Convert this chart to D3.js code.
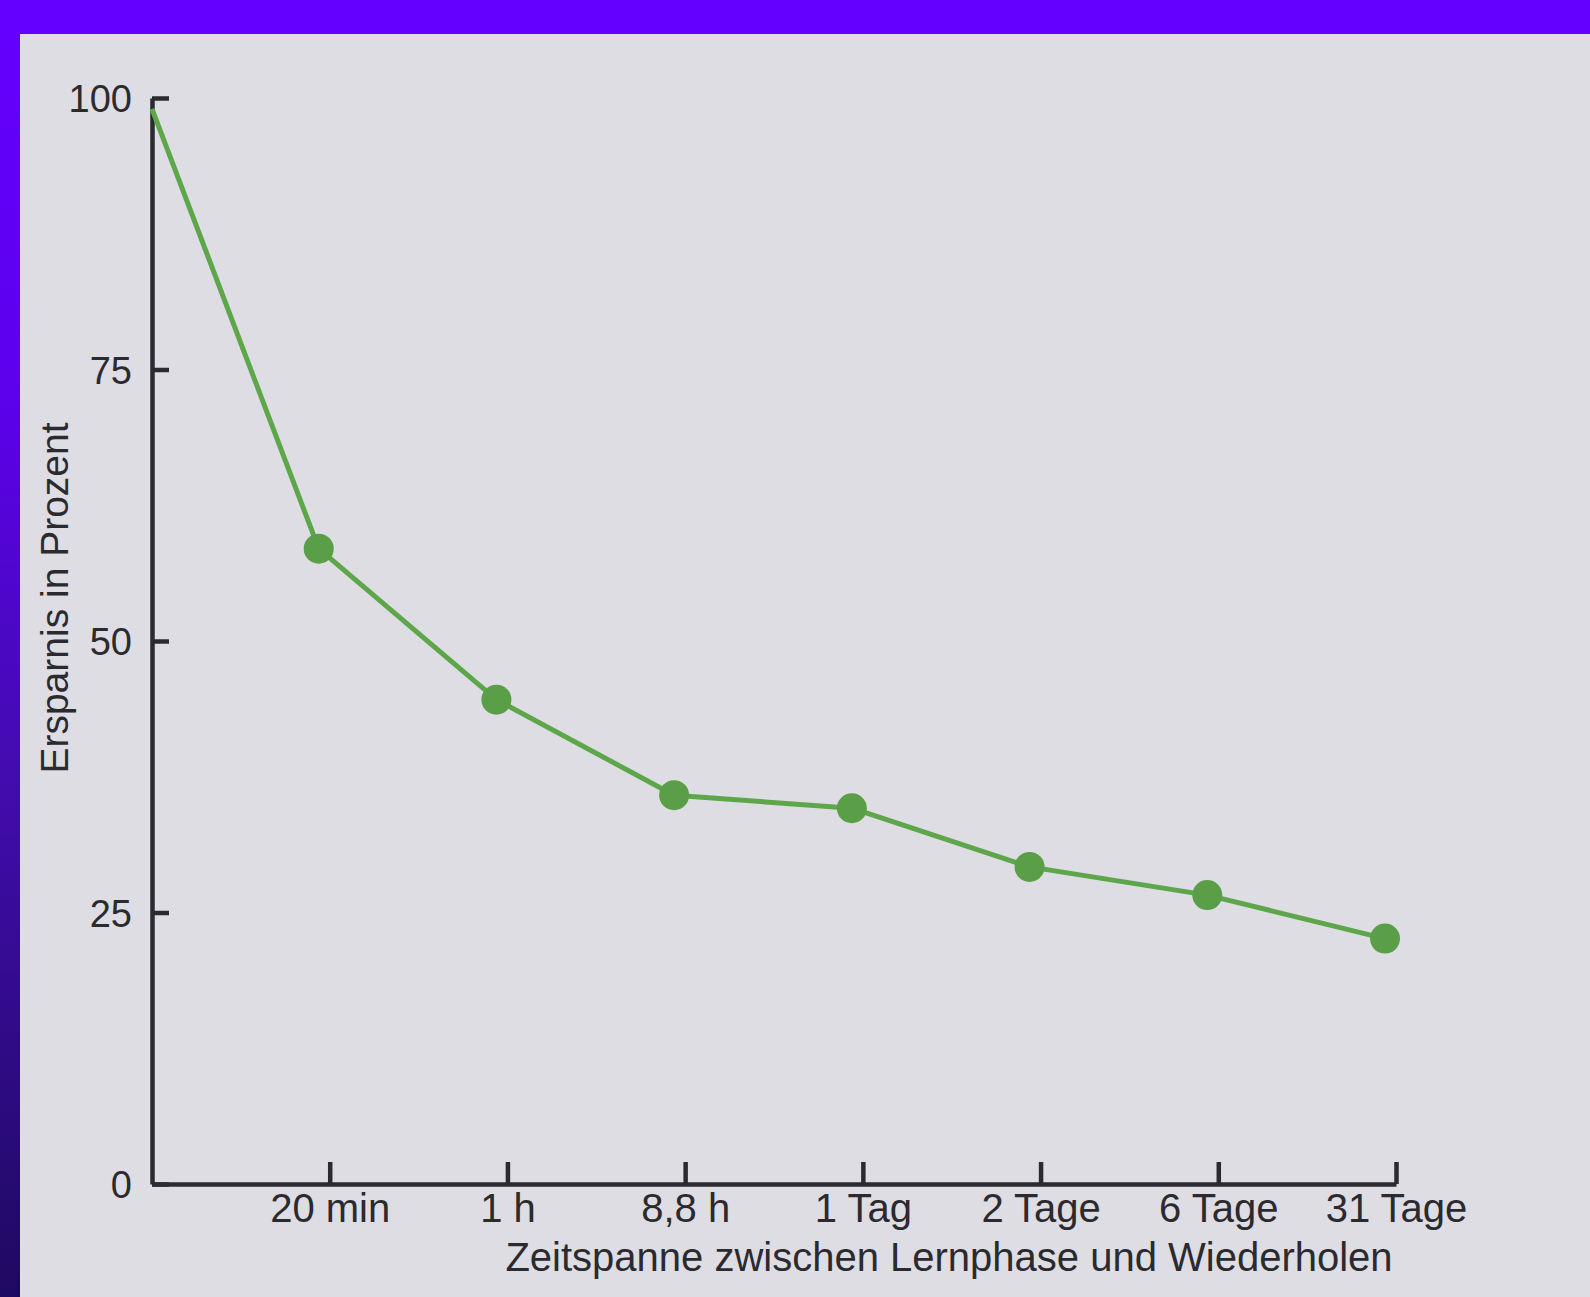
<!DOCTYPE html>
<html>
<head>
<meta charset="utf-8">
<script src="https://cdn.jsdelivr.net/npm/d3@7/dist/d3.min.js"></script>
<style>
  html, body { margin: 0; padding: 0; background: #dedde4; }
  svg { display: block; }
</style>
</head>
<body>
<svg id="chart" width="1590" height="1297"></svg>
<script>
// ---- data ----
const categories = ["20 min", "1 h", "8,8 h", "1 Tag", "2 Tage", "6 Tage", "31 Tage"];
const startValue = 99;
const savings = [58.5, 44.6, 35.8, 34.6, 29.2, 26.6, 22.6];
const yTicks = [0, 25, 50, 75, 100];
const yTitle = "Ersparnis in Prozent";
const xTitle = "Zeitspanne zwischen Lernphase und Wiederholen";

const svg = d3.select("#chart");
const W = 1590, H = 1297;

// frame / page
const defs = svg.append("defs");
const grad = defs.append("linearGradient").attr("id", "leftGrad")
  .attr("x1", 0).attr("y1", 0).attr("x2", 0).attr("y2", 1);
grad.append("stop").attr("offset", "0%").attr("stop-color", "#6400ff");
grad.append("stop").attr("offset", "30%").attr("stop-color", "#5c00ec");
grad.append("stop").attr("offset", "60%").attr("stop-color", "#420cae");
grad.append("stop").attr("offset", "100%").attr("stop-color", "#1e0a60");

svg.append("rect").attr("x", 0).attr("y", 0).attr("width", W).attr("height", H).attr("fill", "#dedde4");
svg.append("rect").attr("x", 0).attr("y", 0).attr("width", 20).attr("height", H).attr("fill", "url(#leftGrad)");
svg.append("rect").attr("x", 0).attr("y", 0).attr("width", W).attr("height", 34).attr("fill", "#6400ff");

// scales
const x0 = 152, x1 = 1396, y0 = 1184, y1 = 98;
const x = d3.scaleLinear().domain([0, categories.length]).range([x0, x1]);
const y = d3.scaleLinear().domain([0, 100]).range([y0, y1]);

const g = svg.append("g").attr("font-family", "'Liberation Sans', Arial, Helvetica, sans-serif");

const ink = "#2b2a2e";

// y axis
const yAxis = d3.axisLeft(y).tickValues(yTicks).tickSizeInner(-17).tickSizeOuter(0).tickPadding(20);
const yg = g.append("g").attr("transform", `translate(${x0},0)`).call(yAxis);
yg.select(".domain").attr("stroke", ink).attr("stroke-width", 4.5);
yg.selectAll(".tick line").attr("stroke", ink).attr("stroke-width", 4.5);
yg.selectAll(".tick text").attr("fill", ink).attr("font-size", 38).attr("font-family", null)
  .attr("dy", "0.36em");

// x axis
const xAxis = d3.axisBottom(x).tickValues(d3.range(1, categories.length + 1))
  .tickFormat(i => categories[i - 1]).tickSizeInner(-22).tickSizeOuter(0).tickPadding(8);
const xg = g.append("g").attr("transform", `translate(0,${y0})`).call(xAxis);
xg.select(".domain").attr("stroke", ink).attr("stroke-width", 4.5);
xg.selectAll(".tick line").attr("stroke", ink).attr("stroke-width", 4.5);
xg.selectAll(".tick text").attr("fill", ink).attr("font-size", 40).attr("font-family", null)
  .attr("dy", "0.75em");

// axis titles
g.append("text").attr("transform", `translate(68,598) rotate(-90)`)
  .attr("text-anchor", "middle").attr("font-size", 39).attr("fill", ink).text(yTitle);
g.append("text").attr("x", 949).attr("y", 1271)
  .attr("text-anchor", "middle").attr("font-size", 40).attr("fill", ink).text(xTitle);

// data line
const dx = -11;
const pts = [{ xp: x(0), yp: y(startValue) }]
  .concat(savings.map((v, i) => ({ xp: x(i + 1) + dx, yp: y(v) })));
const green = "#5da64a";
g.append("path").datum(pts)
  .attr("d", d3.line().x(d => d.xp).y(d => d.yp))
  .attr("fill", "none").attr("stroke", green).attr("stroke-width", 5).attr("stroke-linejoin", "round");
g.selectAll("circle.pt").data(pts.slice(1)).join("circle").attr("class", "pt")
  .attr("cx", d => d.xp).attr("cy", d => d.yp).attr("r", 15).attr("fill", "#5a9f47");
</script>
</body>
</html>
